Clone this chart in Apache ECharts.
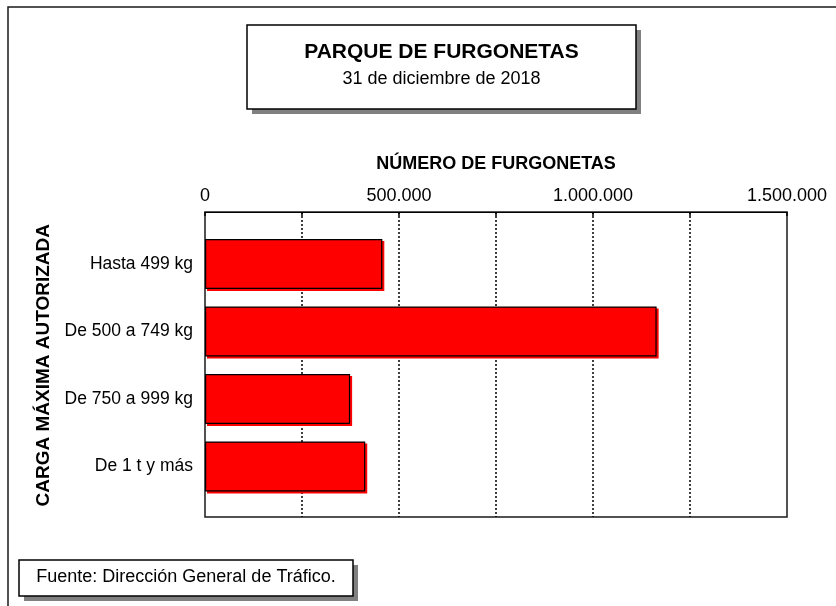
<!DOCTYPE html>
<html>
<head>
<meta charset="utf-8">
<title>Parque de furgonetas</title>
<script src="https://cdn.jsdelivr.net/npm/echarts@6/dist/echarts.min.js"></script>
<style>
  html, body { margin: 0; padding: 0; background: #fff; }
  #chart { width: 836px; height: 606px; }
</style>
</head>
<body>
<div id="chart"></div>
<script>
// datos del grafico
var categorias = ['Hasta 499 kg', 'De 500 a 749 kg', 'De 750 a 999 kg', 'De 1 t y más'];
var furgonetas = [457000, 1164000, 374000, 413000];
var ejeMin = 0;
var ejeMax = 1500000;
var paso = 250000;      // lineas de division
var pasoEtiqueta = 500000;

function formatoMiles(v) {
    return String(v).replace(/\B(?=(\d{3})+(?!\d))/g, '.');
}

var fuente = '"Liberation Sans", Arial, sans-serif';

var myChart = echarts.init(document.getElementById('chart'), null, { renderer: 'canvas' });

var option = {
    backgroundColor: '#fff',
    animation: false,
    textStyle: { fontFamily: fuente, color: '#000' },
    grid: [
        // marco del area de trazado
        { left: 205, top: 212, width: 582, height: 305, show: true,
          borderColor: '#1a1a1a', borderWidth: 1.5, backgroundColor: 'transparent' },
        // area de las barras
        { left: 205, top: 230.25, width: 582, height: 270 }
    ],
    xAxis: [
        {
            gridIndex: 0,
            type: 'value',
            position: 'top',
            min: ejeMin,
            max: ejeMax,
            interval: paso,
            name: 'NÚMERO DE FURGONETAS',
            nameLocation: 'middle',
            nameGap: 39,
            nameTextStyle: { fontFamily: fuente, fontWeight: 'bold', fontSize: 18, color: '#000' },
            axisLine: { show: true, onZero: false, lineStyle: { color: '#000', width: 1 } },
            axisTick: { show: true, inside: true, length: 4, lineStyle: { color: '#000', width: 1.5 } },
            axisLabel: {
                margin: 7,
                fontFamily: fuente,
                fontSize: 18,
                color: '#000',
                formatter: function (v) {
                    return v % pasoEtiqueta === 0 ? formatoMiles(v) : '';
                }
            },
            splitLine: {
                show: true,
                showMinLine: false,
                showMaxLine: false,
                lineStyle: { color: '#000', width: 1.5, type: [2, 2] }
            }
        },
        {
            gridIndex: 1,
            type: 'value',
            min: ejeMin,
            max: ejeMax,
            show: false
        }
    ],
    yAxis: [
        { gridIndex: 0, type: 'value', min: 0, max: 1, show: false },
        {
            gridIndex: 1,
            type: 'category',
            inverse: true,
            data: categorias,
            name: 'CARGA MÁXIMA AUTORIZADA',
            nameLocation: 'middle',
            nameRotate: 90,
            nameGap: 148,
            nameTextStyle: { fontFamily: fuente, fontWeight: 'bold', fontSize: 19, color: '#000' },
            axisLine: { show: false },
            axisTick: { show: false },
            axisLabel: { margin: 12, fontFamily: fuente, fontSize: 17.5, color: '#000' },
            splitLine: { show: false }
        }
    ],
    series: [
        {
            type: 'bar',
            xAxisIndex: 1,
            yAxisIndex: 1,
            data: furgonetas,
            barWidth: 50,
            itemStyle: {
                color: '#ff0000',
                borderColor: '#000',
                borderWidth: 1.2,
                shadowColor: '#ff0000',
                shadowBlur: 0,
                shadowOffsetX: 2,
                shadowOffsetY: 2
            },
            emphasis: { disabled: true },
            silent: true
        }
    ],
    graphic: [
        // marco exterior
        { type: 'rect', shape: { x: 8, y: 7, width: 900, height: 700 },
          style: { fill: 'none', stroke: '#1a1a1a', lineWidth: 1.5 }, silent: true },
        // caja del titulo con sombra
        { type: 'rect', shape: { x: 252, y: 30, width: 389, height: 84 },
          style: { fill: '#808080' }, silent: true },
        { type: 'rect', shape: { x: 247, y: 25, width: 389, height: 84 },
          style: { fill: '#fff', stroke: '#000', lineWidth: 1.5 }, silent: true },
        { type: 'text', x: 441.5, y: 52,
          style: { text: 'PARQUE DE FURGONETAS', fill: '#000', font: 'bold 21px ' + fuente,
                   textAlign: 'center', textVerticalAlign: 'middle' }, silent: true },
        { type: 'text', x: 441.5, y: 79,
          style: { text: '31 de diciembre de 2018', fill: '#000', font: '18px ' + fuente,
                   textAlign: 'center', textVerticalAlign: 'middle' }, silent: true },
        // caja de la fuente
        { type: 'rect', shape: { x: 24, y: 565, width: 334, height: 36 },
          style: { fill: '#808080' }, silent: true },
        { type: 'rect', shape: { x: 19, y: 560, width: 334, height: 36 },
          style: { fill: '#fff', stroke: '#000', lineWidth: 1.5 }, silent: true },
        { type: 'text', x: 186, y: 577,
          style: { text: 'Fuente: Dirección General de Tráfico.', fill: '#000', font: '18px ' + fuente,
                   textAlign: 'center', textVerticalAlign: 'middle' }, silent: true }
    ]
};

myChart.setOption(option);
</script>
</body>
</html>
